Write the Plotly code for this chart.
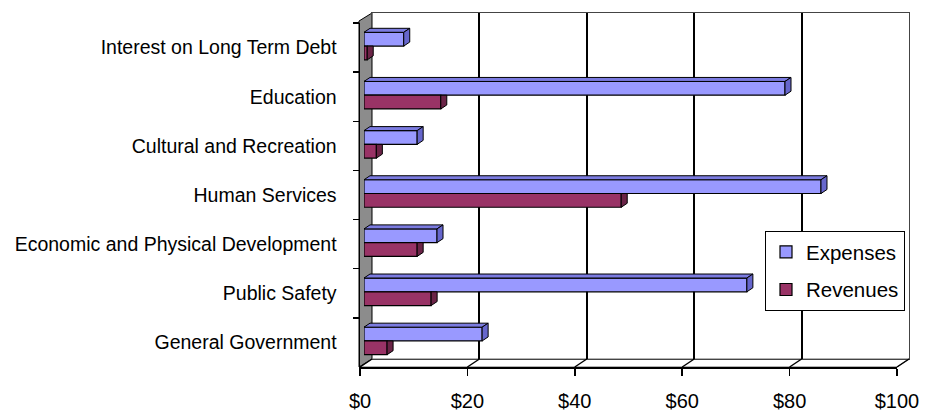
import plotly.graph_objects as go

# ---------------- data ----------------
categories = [
    "Interest on Long Term Debt",
    "Education",
    "Cultural and Recreation",
    "Human Services",
    "Economic and Physical Development",
    "Public Safety",
    "General Government",
]
expenses = [7.4, 78.4, 9.9, 85.1, 13.6, 71.3, 22.0]
revenues = [0.6, 14.3, 2.3, 47.9, 9.9, 12.5, 4.3]
x_tick_values = [0, 20, 40, 60, 80, 100]
x_tick_labels = ["$0", "$20", "$40", "$60", "$80", "$100"]

# ---------------- layout geometry (pixels) ----------------
W, H = 926, 412
FRONT_X0, FRONT_X1 = 360, 897
FRONT_Y_TOP, FRONT_Y_BOT = 23, 367
BACK_X0, BACK_X1 = 372, 909
BACK_Y_TOP, BACK_Y_BOT = 13, 359
BAR_X0, BAR_X1 = 364, 901
BAR_Y_TOP, BAR_Y_BOT = 21.5, 365.5
WALL_X = 359


def px(x):
    return x / W


def py(y):
    return 1 - y / H


FONT = "Liberation Sans, Arial, sans-serif"
EXP_FACE, EXP_TOP, EXP_SIDE = "#9999FF", "#7B7BE0", "#6666CC"
REV_FACE, REV_SIDE = "#993366", "#6B2447"

positions = list(range(len(categories)))
BAR_W = 0.28
DX = 6 / ((BAR_X1 - BAR_X0) / 100.0)
DY = 4 / ((BAR_Y_BOT - BAR_Y_TOP) / len(categories))
N = len(categories)

fig = go.Figure()

# back wall subplot (xy) needs a (empty) trace
fig.add_trace(go.Scatter(x=[], y=[], xaxis="x", yaxis="y", showlegend=False, hoverinfo="skip"))

# bars (x2/y2)
fig.add_trace(go.Bar(
    name="Expenses", orientation="h", y=positions, x=expenses,
    width=BAR_W, offset=-BAR_W,
    marker=dict(color=EXP_FACE, line=dict(color="black", width=1.2)),
    xaxis="x2", yaxis="y2", legendgroup="e",
))
fig.add_trace(go.Bar(
    name="Revenues", orientation="h", y=positions, x=revenues,
    width=BAR_W, offset=0,
    marker=dict(color=REV_FACE, line=dict(color="black", width=1.2)),
    xaxis="x2", yaxis="y2", legendgroup="r",
))

# 3D caps derived from the values
top_x, top_y, side_x, side_y = [], [], [], []
for p, v in zip(positions, expenses):
    t = p - BAR_W
    top_x += [0, v, v + DX, DX, 0, None]
    top_y += [t, t, t - DY, t - DY, t, None]
    side_x += [v, v, v + DX, v + DX, v, None]
    side_y += [p, t, t - DY, p - DY, p, None]
rside_x, rside_y = [], []
for p, v in zip(positions, revenues):
    rside_x += [v, v, v + DX, v + DX, v, None]
    rside_y += [p + BAR_W, p, p, p + BAR_W - DY, p + BAR_W, None]


def poly(xs, ys, color):
    return go.Scatter(
        x=xs, y=ys, mode="lines", fill="toself", fillcolor=color,
        line=dict(color="black", width=1), xaxis="x2", yaxis="y2",
        showlegend=False, hoverinfo="skip", cliponaxis=False,
    )


fig.add_trace(poly(rside_x, rside_y, REV_SIDE))
fig.add_trace(poly(top_x, top_y, EXP_TOP))
fig.add_trace(poly(side_x, side_y, EXP_SIDE))

# front axes carrier (x3/y3)
fig.add_trace(go.Scatter(
    x=[0] * N, y=categories, mode="markers",
    marker=dict(opacity=0), xaxis="x3", yaxis="y3",
    showlegend=False, hoverinfo="skip",
))

# ---------------- decorations: wall and floor ----------------
shapes = []
wall_path = (
    f"M {px(WALL_X)},{py(FRONT_Y_BOT)} L {px(WALL_X)},{py(FRONT_Y_TOP - 2)} "
    f"L {px(BACK_X0)},{py(BACK_Y_TOP)} L {px(BACK_X0)},{py(BACK_Y_BOT)} Z"
)
shapes.append(dict(type="path", path=wall_path, xref="paper", yref="paper",
                   fillcolor="#8C8C8C", line=dict(color="black", width=1), layer="below"))
floor_path = (
    f"M {px(FRONT_X0)},{py(FRONT_Y_BOT)} L {px(FRONT_X1)},{py(FRONT_Y_BOT)} "
    f"L {px(BACK_X1)},{py(BACK_Y_BOT)} L {px(BACK_X0)},{py(BACK_Y_BOT)} Z"
)
shapes.append(dict(type="path", path=floor_path, xref="paper", yref="paper",
                   fillcolor="white", line=dict(color="#666666", width=1), layer="below"))
for t in x_tick_values:
    fx = FRONT_X0 + (FRONT_X1 - FRONT_X0) * t / 100.0
    bx = BACK_X0 + (BACK_X1 - BACK_X0) * t / 100.0
    shapes.append(dict(type="line", xref="paper", yref="paper",
                       x0=px(fx), y0=py(FRONT_Y_BOT), x1=px(bx), y1=py(BACK_Y_BOT),
                       line=dict(color="black", width=1.5), layer="above"))

fig.update_layout(
    template="none",
    width=W, height=H, autosize=False,
    margin=dict(l=0, r=0, t=0, b=0, pad=0, autoexpand=False),
    paper_bgcolor="white", plot_bgcolor="rgba(0,0,0,0)",
    font=dict(family=FONT, size=19, color="black"),
    barmode="overlay",
    showlegend=True,
    legend=dict(
        x=px(765), y=py(231), xanchor="left", yanchor="top",
        bgcolor="white", bordercolor="black", borderwidth=1,
        font=dict(family=FONT, size=20.5, color="black"),
        traceorder="grouped", tracegroupgap=8,
    ),
    shapes=shapes,
    # back wall
    xaxis=dict(domain=[px(BACK_X0), px(BACK_X1)], range=[0, 100], tickvals=x_tick_values,
               showticklabels=False, showgrid=True, gridcolor="black", gridwidth=2,
               zeroline=False, showline=True, mirror=True, linecolor="#444444", linewidth=1,
               ticks="", anchor="y", fixedrange=True, automargin=False),
    yaxis=dict(domain=[py(BACK_Y_BOT), py(BACK_Y_TOP)], range=[0, 1], showgrid=False,
               zeroline=False, showticklabels=False, showline=True, mirror=True,
               linecolor="#444444", linewidth=1, ticks="", anchor="x", fixedrange=True,
               automargin=False),
    # bars plane
    xaxis2=dict(domain=[px(BAR_X0), px(BAR_X1)], range=[0, 100], visible=False,
                anchor="y2", fixedrange=True, automargin=False),
    yaxis2=dict(domain=[py(BAR_Y_BOT), py(BAR_Y_TOP)], range=[N - 0.5, -0.5],
                visible=False, anchor="x2", fixedrange=True, automargin=False),
    # front axes
    xaxis3=dict(domain=[px(FRONT_X0), px(FRONT_X1)], range=[0, 100],
                tickvals=x_tick_values, ticktext=x_tick_labels,
                ticks="outside", ticklen=7, tickwidth=1.5, tickcolor="black",
                showline=True, linecolor="black", linewidth=1.5,
                showgrid=False, zeroline=False, anchor="y3",
                tickfont=dict(family=FONT, size=20), ticklabelstandoff=8,
                fixedrange=True, automargin=False),
    yaxis3=dict(domain=[py(FRONT_Y_BOT), py(FRONT_Y_TOP)], type="category",
                categoryorder="array", categoryarray=categories, range=[N - 0.5, -0.5],
                tickson="boundaries", ticks="outside", ticklen=6, tickwidth=1.5,
                tickcolor="black", showline=True, linecolor="black", linewidth=1.5,
                showgrid=False, zeroline=False, anchor="x3",
                tickfont=dict(family=FONT, size=19.5), ticklabelstandoff=18,
                fixedrange=True, automargin=False),
)

fig.write_html(
    "out.html",
    config={"displayModeBar": False, "staticPlot": True},
    post_script="document.body.style.margin='0';document.body.style.overflow='hidden';",
)
